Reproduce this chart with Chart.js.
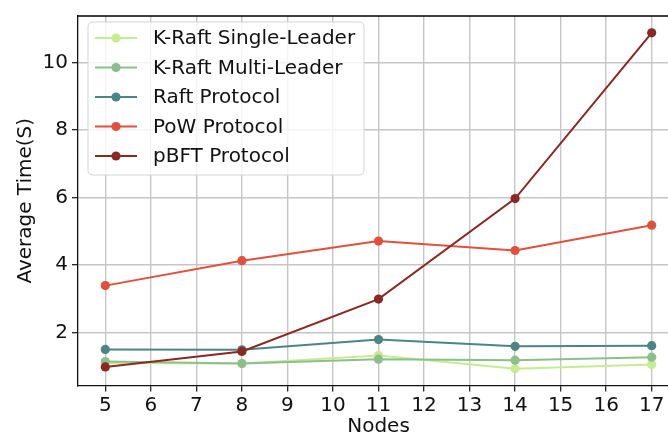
<!DOCTYPE html>
<html>
<head>
<meta charset="utf-8">
<script src="https://cdn.jsdelivr.net/npm/chart.js@4"></script>
<style>
  html, body { margin: 0; padding: 0; background: #fff; overflow: hidden; width: 668px; height: 436px; }
  canvas { display: block; }
</style>
</head>
<body>
<canvas id="c" width="700" height="436"></canvas>
<script>
const nodes = [5, 8, 11, 14, 17];
const seriesNames = ['K-Raft Single-Leader', 'K-Raft Multi-Leader', 'Raft Protocol', 'PoW Protocol', 'pBFT Protocol'];
const kraftSingle = [1.10, 1.08, 1.32, 0.93, 1.05];
const kraftMulti = [1.14, 1.08, 1.21, 1.18, 1.27];
const raft = [1.50, 1.49, 1.79, 1.59, 1.61];
const pow = [3.39, 4.13, 4.71, 4.43, 5.18];
const pbft = [0.98, 1.44, 2.99, 5.97, 10.88];
const seriesColors = ['#c8eb92', '#8cbf8b', '#4b8584', '#e0503c', '#8a2824'];
const xTicks = [5, 6, 7, 8, 9, 10, 11, 12, 13, 14, 15, 16, 17];
const yTicks = [2, 4, 6, 8, 10];

const FONT = 'DejaVu Sans';
const FS = 20;
const allSeries = [kraftSingle, kraftMulti, raft, pow, pbft];

const datasets = allSeries.map((vals, i) => ({
  label: seriesNames[i],
  data: nodes.map((n, j) => ({ x: n, y: vals[j] })),
  borderColor: seriesColors[i],
  backgroundColor: seriesColors[i],
  pointBackgroundColor: seriesColors[i],
  pointBorderColor: seriesColors[i],
  pointRadius: 4.6,
  pointBorderWidth: 0,
  borderWidth: 2,
  tension: 0,
  order: allSeries.length - i
}));

const framePlugin = {
  id: 'frame',
  afterDraw(chart) {
    const { ctx, chartArea } = chart;
    ctx.save();
    ctx.strokeStyle = '#000';
    ctx.lineWidth = 1.3;
    ctx.beginPath();
    ctx.moveTo(chartArea.left, chartArea.top);
    ctx.lineTo(chartArea.right, chartArea.top);
    ctx.lineTo(chartArea.right, chartArea.bottom);
    ctx.stroke();

    // legend box
    const bx = 88, by = 22, bw = 276, bh = 153, r = 5;
    ctx.beginPath();
    ctx.moveTo(bx + r, by);
    ctx.lineTo(bx + bw - r, by);
    ctx.quadraticCurveTo(bx + bw, by, bx + bw, by + r);
    ctx.lineTo(bx + bw, by + bh - r);
    ctx.quadraticCurveTo(bx + bw, by + bh, bx + bw - r, by + bh);
    ctx.lineTo(bx + r, by + bh);
    ctx.quadraticCurveTo(bx, by + bh, bx, by + bh - r);
    ctx.lineTo(bx, by + r);
    ctx.quadraticCurveTo(bx, by, bx + r, by);
    ctx.closePath();
    ctx.fillStyle = 'rgba(255,255,255,0.8)';
    ctx.fill();
    ctx.strokeStyle = '#d4d4d4';
    ctx.lineWidth = 1;
    ctx.stroke();

    chart.data.datasets.forEach((ds, i) => {
      const y = 38 + i * 29.5;
      ctx.strokeStyle = ds.borderColor;
      ctx.lineWidth = 2;
      ctx.beginPath();
      ctx.moveTo(95, y);
      ctx.lineTo(137, y);
      ctx.stroke();
      ctx.fillStyle = ds.borderColor;
      ctx.beginPath();
      ctx.arc(116, y, 4.6, 0, Math.PI * 2);
      ctx.fill();
      ctx.fillStyle = '#111';
      ctx.font = FS + 'px "' + FONT + '"';
      ctx.textBaseline = 'middle';
      ctx.textAlign = 'left';
      ctx.fillText(ds.label, 153, y + 1);
    });
    ctx.restore();
  }
};

new Chart(document.getElementById('c'), {
  type: 'line',
  data: { datasets },
  options: {
    responsive: false,
    animation: false,
    devicePixelRatio: 1,
    layout: { padding: { left: 0, top: 13, right: 21, bottom: 0 } },
    plugins: { legend: { display: false }, tooltip: { enabled: false } },
    scales: {
      x: {
        type: 'linear',
        min: 4.4,
        max: 17.6,
        afterBuildTicks: (s) => { s.ticks = xTicks.map(v => ({ value: v })); },
        afterFit: (s) => { s.height = 50.5; },
        ticks: { color: '#111', font: { family: FONT, size: FS }, padding: 2, maxRotation: 0, autoSkip: false },
        grid: { color: '#c6c6c6', lineWidth: 1.4, tickColor: '#111', tickLength: 6, tickWidth: 1.2 },
        border: { color: '#111', width: 1.3 },
        title: { display: true, text: 'Nodes', color: '#111', font: { family: FONT, size: FS }, padding: { top: 0, bottom: -3 } }
      },
      y: {
        type: 'linear',
        min: 0.43,
        max: 11.38,
        afterBuildTicks: (s) => { s.ticks = yTicks.map(v => ({ value: v })); },
        afterFit: (s) => { s.width = 78; },
        ticks: { color: '#111', font: { family: FONT, size: FS }, padding: 4 },
        grid: { color: '#c6c6c6', lineWidth: 1.4, tickColor: '#111', tickLength: 6, tickWidth: 1.2 },
        border: { color: '#111', width: 1.3 },
        title: { display: true, text: 'Average Time(S)', color: '#111', font: { family: FONT, size: FS }, padding: { top: 14, bottom: 0 } }
      }
    }
  },
  plugins: [framePlugin]
});
</script>
</body>
</html>
